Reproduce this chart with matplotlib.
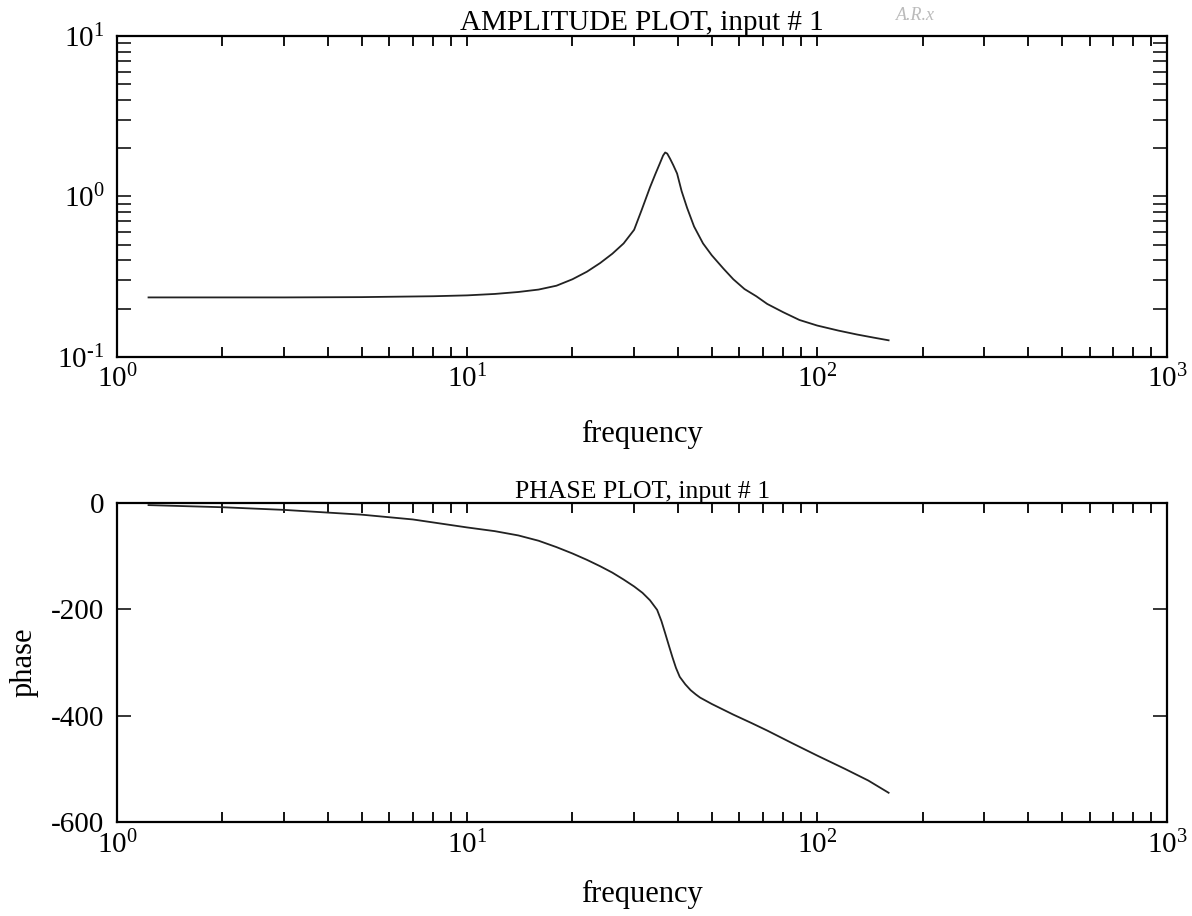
"""
Bode plot (amplitude / phase) of input # 1
"""

import matplotlib
matplotlib.use("Agg")
import matplotlib.pyplot as plt
import matplotlib.ticker as mt

# amplitude response
amp_freq = [1.23, 2, 3, 5, 8, 10, 12, 14, 16, 18, 20, 22, 24, 26, 28, 30,
            31.5, 33.3, 34.5, 35.5, 36.3, 36.8, 37.3, 38, 38.8, 39.8, 41,
            42.5, 44.5, 47.2, 50, 54, 57.6, 62, 67, 72, 80, 89, 100, 115,
            130, 145, 160]
amp = [0.235, 0.235, 0.235, 0.236, 0.239, 0.242, 0.247, 0.254, 0.263,
       0.278, 0.305, 0.34, 0.385, 0.44, 0.51, 0.62, 0.82, 1.14, 1.38, 1.6,
       1.8, 1.88, 1.85, 1.72, 1.57, 1.39, 1.08, 0.85, 0.65, 0.51, 0.43,
       0.355, 0.305, 0.265, 0.239, 0.214, 0.19, 0.17, 0.157, 0.146, 0.138,
       0.132, 0.127]

# phase response
ph_freq = [1.23, 2, 3, 5, 7, 10, 12, 14, 16, 18, 20, 22, 24, 26, 28, 30,
           31.7, 33.3, 34.9, 35.9, 36.8, 37.7, 38.6, 39.5, 40.5, 42, 43.5,
           45, 46.3, 50, 57.6, 65, 72, 85, 100, 120, 140, 160]
phase = [-4, -8, -13, -22, -31, -46, -53, -61, -71, -83, -95, -107, -119,
         -131, -144, -157, -169, -183, -201, -222, -245, -268, -290, -310,
         -327, -341, -352, -360, -366, -378, -398, -414, -428, -452, -475,
         -500, -522, -545]

x_ticks = [1, 10, 100, 1000]
x_labels = ["$\\mathregular{10^{0}}$", "$\\mathregular{10^{1}}$",
            "$\\mathregular{10^{2}}$", "$\\mathregular{10^{3}}$"]
amp_ticks = [0.1, 1, 10]
amp_labels = ["$\\mathregular{10^{\\text{-}1}}$", "$\\mathregular{10^{0}}$",
              "$\\mathregular{10^{1}}$"]
ph_ticks = [0, -200, -400, -600]
ph_labels = ["0", "-200", "-400", "-600"]

plt.rcParams["font.family"] = ["Liberation Serif", "DejaVu Serif"]
plt.rcParams["mathtext.fontset"] = "custom"
plt.rcParams["mathtext.rm"] = "Liberation Serif"

fig = plt.figure(figsize=(11.92, 9.16), dpi=100)
ax1 = fig.add_axes([0.0982, 0.6103, 0.881, 0.3504])
ax2 = fig.add_axes([0.0982, 0.1026, 0.881, 0.3483])


def style_x(ax, pad):
    ax.set_xscale("log")
    ax.set_xlim(1, 1000)
    ax.set_xticks(x_ticks)
    ax.set_xticklabels(x_labels)
    ax.xaxis.set_minor_locator(mt.LogLocator(base=10, subs=range(2, 10)))
    ax.xaxis.set_minor_formatter(mt.NullFormatter())
    ax.tick_params(axis="x", which="both", direction="in", top=True,
                   length=7, width=1.3, labelsize=21, pad=6)
    ax.tick_params(axis="y", which="both", direction="in", right=True,
                   length=10, width=1.1, labelsize=21, pad=9)
    for sp in ax.spines.values():
        sp.set_linewidth(1.6)
    ax.set_xlabel("frequency", fontsize=22, labelpad=pad)


# amplitude
ax1.plot(amp_freq, amp, color="#222222", linewidth=1.3)
ax1.set_yscale("log")
ax1.set_ylim(0.1, 10)
ax1.set_yticks(amp_ticks)
ax1.set_yticklabels(amp_labels)
ax1.yaxis.set_minor_locator(mt.LogLocator(base=10, subs=range(2, 10)))
ax1.yaxis.set_minor_formatter(mt.NullFormatter())
style_x(ax1, 19)
ax1.set_title("AMPLITUDE PLOT, input # 1", fontsize=21, pad=4)

# phase
ax2.plot(ph_freq, phase, color="#222222", linewidth=1.3)
ax2.set_ylim(-600, 0)
ax2.set_yticks(ph_ticks)
ax2.set_yticklabels(ph_labels)
style_x(ax2, 15)
ax2.set_ylabel("phase", fontsize=22, labelpad=9)
ax2.set_title("PHASE PLOT, input # 1", fontsize=18.5, pad=0)

# faint handwritten note on the scan
fig.text(0.752, 0.978, "A.R.x", fontsize=13, color="#bbbbbb",
         style="italic")

fig.savefig("out.png", dpi=100)
